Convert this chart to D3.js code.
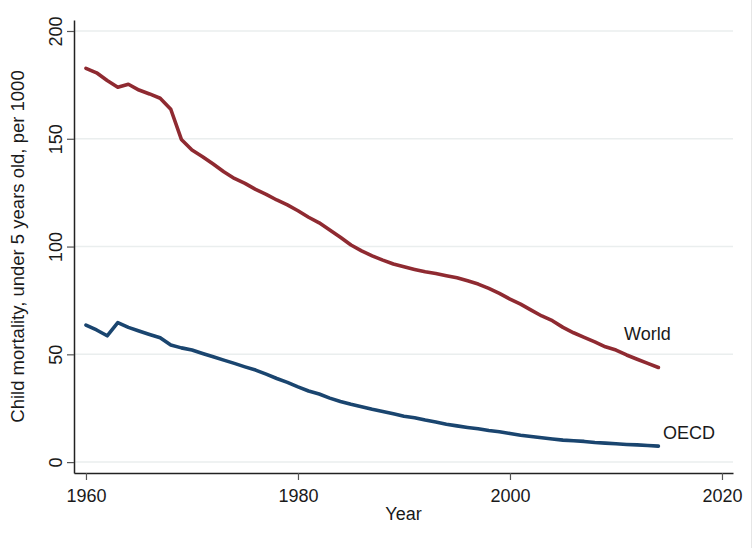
<!DOCTYPE html>
<html>
<head>
<meta charset="utf-8">
<script src="https://cdn.jsdelivr.net/npm/d3@7"></script>
<style>
  body { margin: 0; background: #fff; }
  svg text { font-family: "Liberation Sans", Arial, sans-serif; fill: #1a1a1a; }
</style>
</head>
<body>
<div id="chart"></div>
<script>
// data
var years = d3.range(1960, 2015);
var world = [182.7, 180.6, 177.0, 173.9, 175.3, 172.6, 170.8, 168.8, 163.7, 149.7,
             144.8, 141.7, 138.3, 134.7, 131.6, 129.3, 126.5, 124.2, 121.6, 119.3,
             116.6, 113.6, 111.0, 107.7, 104.3, 100.7, 98.0, 95.7, 93.7, 91.9,
             90.6, 89.4, 88.3, 87.5, 86.5, 85.5, 84.1, 82.6, 80.6, 78.3,
             75.6, 73.3, 70.5, 67.8, 65.6, 62.5, 60.0, 57.9, 55.8, 53.5,
             52.0, 49.7, 47.7, 45.8, 43.9];
var oecd = [63.6, 61.3, 58.6, 64.7, 62.5, 60.8, 59.2, 57.7, 54.3, 53.0,
            52.0, 50.4, 48.9, 47.3, 45.8, 44.2, 42.7, 40.8, 38.8, 37.0,
            34.9, 33.0, 31.6, 29.7, 28.1, 26.8, 25.7, 24.5, 23.5, 22.4,
            21.3, 20.6, 19.5, 18.6, 17.6, 16.8, 16.1, 15.5, 14.7, 14.1,
            13.3, 12.5, 11.9, 11.3, 10.7, 10.2, 9.9, 9.6, 9.1, 8.8,
            8.5, 8.2, 8.0, 7.7, 7.4];
var xTicks = [1960, 1980, 2000, 2020];
var yTicks = [0, 50, 100, 150, 200];

var W = 754, H = 548;
var svg = d3.select("#chart").append("svg")
  .attr("width", W)
  .attr("height", H);

// scales - axis runs a little past the tick range like stata does
var x = d3.scaleLinear().domain([1958.87, 2021.04]).range([74, 733]);
var y = d3.scaleLinear().domain([-5.05, 205.1]).range([473, 20]);

// gridlines
svg.append("g").selectAll("line")
  .data(yTicks)
  .join("line")
  .attr("x1", 74).attr("x2", 733)
  .attr("y1", d => y(d)).attr("y2", d => y(d))
  .attr("stroke", "#eaeeee")
  .attr("stroke-width", 1.5);

// y axis
var yAxis = svg.append("g")
  .attr("transform", "translate(74,0)")
  .call(d3.axisLeft(y).tickValues(yTicks).tickSize(7).tickPadding(0).tickSizeOuter(0));
yAxis.select(".domain").attr("stroke", "#222").attr("stroke-width", 1.5);
yAxis.selectAll(".tick line").attr("stroke", "#555").attr("stroke-width", 1.2);
yAxis.selectAll(".tick text")
  .attr("x", 0).attr("dy", 0)
  .attr("transform", "translate(-12.5,0) rotate(-90)")
  .style("text-anchor", "middle")
  .style("font-size", "18px")
  .attr("fill", "#1a1a1a");

// x axis
var xAxis = svg.append("g")
  .attr("transform", "translate(0,473)")
  .call(d3.axisBottom(x).tickValues(xTicks).tickFormat(d3.format("d")).tickSize(7).tickSizeOuter(0));
xAxis.select(".domain").attr("stroke", "#222").attr("stroke-width", 1.5);
xAxis.selectAll(".tick line").attr("stroke", "#555").attr("stroke-width", 1.2);
xAxis.selectAll(".tick text")
  .attr("y", 29).attr("dy", 0)
  .style("font-size", "18px")
  .attr("fill", "#1a1a1a");

// axis titles
svg.append("text")
  .attr("transform", "translate(23.5," + ((20 + 473) / 2) + ") rotate(-90)")
  .style("text-anchor", "middle")
  .style("font-size", "18.5px")
  .text("Child mortality, under 5 years old, per 1000");

svg.append("text")
  .attr("x", (74 + 733) / 2)
  .attr("y", 520)
  .style("text-anchor", "middle")
  .style("font-size", "18px")
  .text("Year");

// lines
var line = d3.line()
  .x((d, i) => x(years[i]))
  .y(d => y(d));

svg.append("path")
  .datum(world)
  .attr("d", line)
  .attr("fill", "none")
  .attr("stroke", "#8f2a31")
  .attr("stroke-width", 3.6)
  .attr("stroke-linejoin", "round")
  .attr("stroke-linecap", "round");

svg.append("path")
  .datum(oecd)
  .attr("d", line)
  .attr("fill", "none")
  .attr("stroke", "#1a456f")
  .attr("stroke-width", 3.6)
  .attr("stroke-linejoin", "round")
  .attr("stroke-linecap", "round");

// series labels
svg.append("text")
  .attr("x", 624).attr("y", 340)
  .style("font-size", "18px")
  .text("World");

svg.append("text")
  .attr("x", 663).attr("y", 439)
  .style("font-size", "18px")
  .text("OECD");

// faint border on the right like the original image
svg.append("line")
  .attr("x1", 751.5).attr("x2", 751.5)
  .attr("y1", 0).attr("y2", H)
  .attr("stroke", "#e6e6e6")
  .attr("stroke-width", 1);
</script>
</body>
</html>
